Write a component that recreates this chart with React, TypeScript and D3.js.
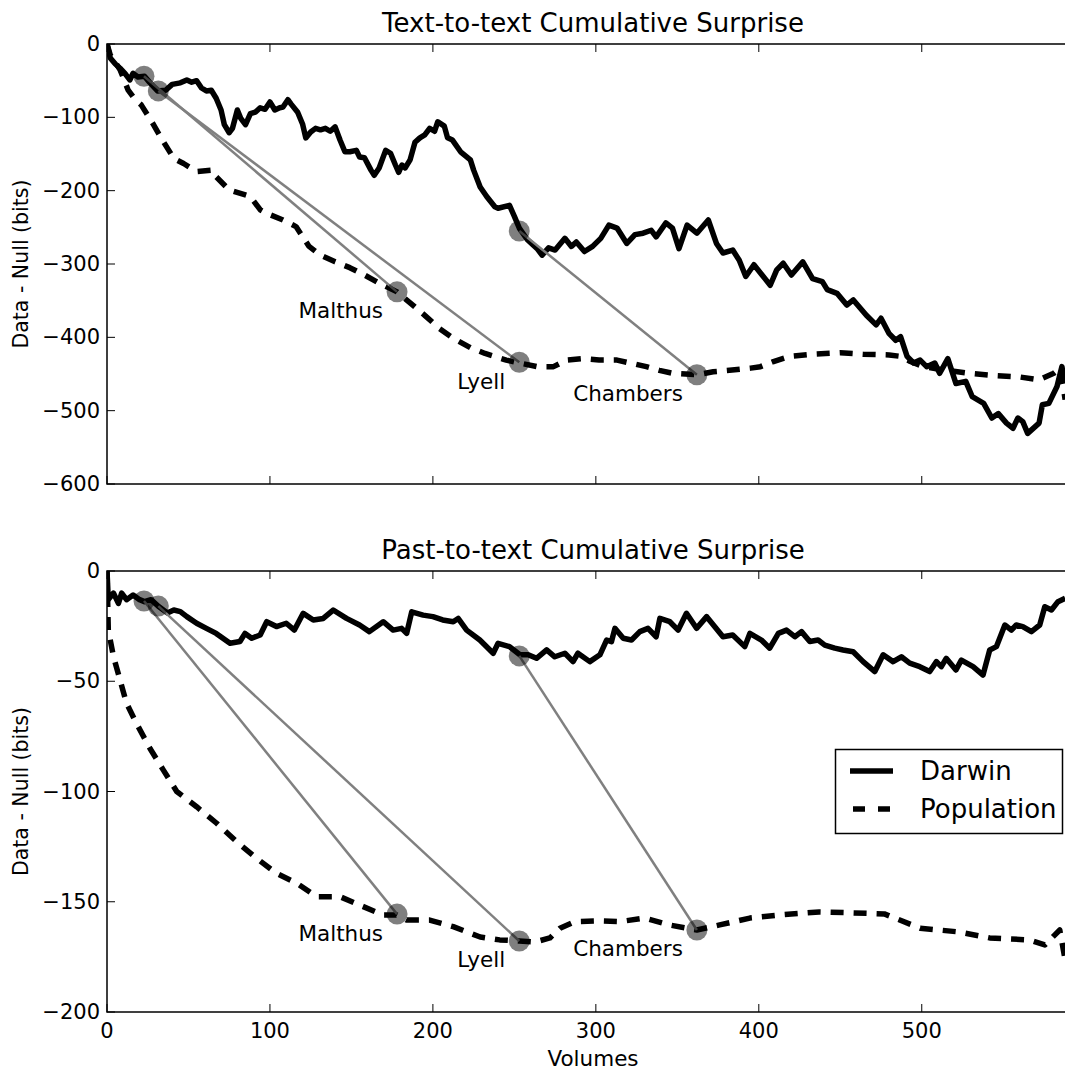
import React from "react";
import * as d3 from "d3";

type P = [number, number];

// ---------- data ----------
const xTicks = [0, 100, 200, 300, 400, 500];
const topYTicks = [0, -100, -200, -300, -400, -500, -600];
const bottomYTicks = [0, -50, -100, -150, -200];

const sourceNames = ["Malthus", "Lyell", "Chambers"];
const darwinReadVol = [22.7, 31.5, 253];
const popPubVol = [178, 253, 362];

const textDarwinMarks = [-44, -64, -255];
const textPopMarks = [-338, -434, -451];
const pastDarwinMarks = [-13.6, -15.9, -38.5];
const pastPopMarks = [-155.6, -167.8, -162.8];

const textDarwin: P[] = [
  [0, 0], [2, -19], [5, -27], [8, -33], [11, -40], [14, -49], [16, -40], [19, -45], [23, -44], [26, -52],
  [31, -64], [36, -63], [40, -55], [45, -53], [49, -49], [52, -52], [55, -50], [58, -60], [61, -64], [64, -63],
  [67, -74], [70, -90], [72, -110], [75, -121], [77, -115], [80, -90], [82, -101], [85, -110], [88, -95], [91, -93],
  [94, -87], [97, -89], [100, -79], [103, -90], [106, -87], [108, -86], [111, -76], [113, -82], [117, -93], [120, -109],
  [122, -128], [125, -120], [128, -115], [131, -117], [134, -115], [137, -119], [140, -113], [143, -131], [146, -147], [149, -147],
  [153, -145], [155, -154], [158, -155], [162, -172], [164, -179], [167, -169], [171, -145], [174, -149], [177, -165], [179, -175],
  [181, -165], [183, -169], [186, -158], [189, -134], [192, -128], [195, -124], [198, -115], [201, -119], [203, -106], [207, -112],
  [209, -128], [212, -131], [217, -147], [223, -158], [225, -172], [229, -195], [233, -208], [238, -222], [240, -224], [247, -220],
  [250, -235], [253, -251], [258, -267], [264, -279], [267, -288], [271, -278], [275, -281], [281, -265], [285, -276], [288, -270],
  [293, -283], [298, -276], [303, -265], [308, -247], [313, -251], [319, -272], [324, -260], [329, -258], [334, -254], [337, -263],
  [343, -244], [347, -251], [351, -279], [356, -247], [362, -258], [369, -240], [374, -272], [378, -285], [384, -281], [388, -295],
  [392, -317], [397, -301], [402, -315], [407, -329], [411, -308], [415, -299], [420, -315], [427, -297], [433, -320], [439, -324],
  [442, -335], [448, -340], [454, -356], [458, -349], [466, -370], [472, -383], [475, -374], [480, -395], [484, -404], [487, -399],
  [491, -426], [495, -435], [499, -431], [503, -440], [508, -435], [511, -449], [516, -429], [521, -463], [527, -460], [531, -481],
  [538, -490], [543, -510], [547, -504], [552, -517], [556, -524], [559, -510], [562, -515], [565, -531], [572, -517], [574, -492],
  [578, -490], [583, -467], [586, -440], [588, -462],
];

const textPop: P[] = [
  [0, 0], [2, -15], [5, -25], [8, -35], [13, -63], [17, -75], [21, -83], [28, -108], [34, -131], [41, -156],
  [47, -163], [55, -174], [65, -172], [67, -181], [75, -199], [88, -208], [94, -226], [98, -231], [108, -240], [116, -249],
  [124, -276], [131, -288], [140, -297], [149, -305], [158, -315], [167, -326], [178, -338], [186, -353], [195, -370], [204, -388],
  [213, -402], [223, -414], [232, -422], [245, -431], [253, -435], [264, -440], [274, -440], [282, -431], [292, -429], [302, -431],
  [313, -431], [321, -435], [331, -440], [339, -445], [347, -449], [362, -451], [372, -447], [382, -445], [395, -442], [401, -440],
  [409, -433], [419, -426], [433, -423], [450, -421], [464, -423], [480, -424], [487, -426], [493, -433], [501, -440], [515, -445],
  [529, -449], [544, -452], [560, -454], [572, -458], [581, -449], [585, -442], [588, -485],
];

const pastDarwin: P[] = [
  [0, 0], [0.8, -13], [4, -10], [7, -14.7], [9, -10], [12, -13], [16, -10.9], [20, -13], [23, -13.9], [27, -13],
  [31.5, -16], [37, -19], [41, -17.7], [45, -18.4], [49, -20.7], [55, -23.7], [61, -26], [67, -28.3], [75.5, -32.8], [81.6, -32],
  [84.7, -28.3], [88.8, -30.5], [94, -29], [98, -23], [104, -25.2], [110, -23.7], [115, -26.8], [120.4, -19.2], [126.6, -22.2], [132.7, -21.5],
  [138.8, -17.7], [147, -21.5], [155, -24.5], [161, -27.5], [169.5, -23], [175.6, -26.8], [180.8, -26], [183.9, -28.3], [187, -18.5], [194, -20],
  [200, -20.7], [206, -22.2], [212.5, -23], [215.5, -21.5], [220.7, -26.8], [228.8, -31.3], [237, -37.3], [240, -32.8], [247, -34.3], [253.4, -38],
  [258.5, -38], [263.6, -39.6], [269.8, -35.8], [274.8, -38.9], [281, -37.3], [286, -41.1], [289, -37.3], [296.3, -41.1], [302.5, -38], [306.6, -31.3],
  [309.6, -32], [311.7, -26], [316.8, -30.5], [321.9, -31.3], [327, -27.5], [332, -26], [337, -29.8], [339.3, -21.5], [345.4, -23], [350.5, -26.8],
  [355.6, -19.2], [361.8, -26], [368, -20.7], [378, -29.8], [384, -29], [391.4, -34.3], [394.5, -28.3], [401.6, -31.3], [406.7, -35], [412, -28.3],
  [417, -26.8], [422.1, -29.8], [426.2, -27.5], [431.3, -32], [436.4, -31.3], [440.5, -33.6], [446.6, -35], [451.7, -35.8], [457.9, -36.6], [464, -41.1],
  [471.2, -45.6], [476.3, -38], [482.4, -41.1], [487.5, -38.9], [492.6, -41.8], [498.8, -43.4], [504.9, -45.6], [509, -41.1], [512, -43.4], [515, -39.6],
  [521, -44.9], [524.3, -40.4], [531.5, -43.4], [537.6, -47.2], [541.7, -35.8], [545.8, -34.3], [551, -24.5], [555, -26.8], [558, -24.5], [562, -25.2],
  [567.3, -27.5], [572.4, -24.5], [575.5, -16.2], [579.6, -17.7], [583.6, -13.9], [588, -12.4],
];

const pastPop: P[] = [
  [0, 0], [0.8, -26.8], [4, -38.9], [8, -49.4], [12, -60], [18, -69], [26.4, -80.5], [34.5, -90.2], [42.8, -100], [55, -106.9],
  [67.3, -114.4], [79.6, -122.8], [91.8, -130.3], [104, -137.1], [116.4, -141.6], [128.7, -147.7], [143, -147.7], [157.3, -152.2], [169.5, -156], [177.7, -156],
  [183.9, -158.3], [198, -158.3], [212.5, -161.3], [229, -166], [241, -167.3], [253, -167.8], [262.6, -168.3], [271.8, -166.4], [278, -162], [287, -159],
  [302, -158.7], [314.7, -159], [330, -157.4], [345, -160.5], [362, -162.8], [376, -160.5], [394.5, -157.4], [413, -156], [437, -154.6], [456, -155],
  [477, -155.5], [486.5, -158.3], [499, -162], [523, -163.7], [541.7, -166.4], [566, -167.3], [575.5, -169.6], [584.7, -162.8], [588, -176.4],
];

// ---------- layout ----------
const W = 1065;
const H = 1070;
const L = 107;
const R = 1079;
const FONT = "'DejaVu Sans', 'Bitstream Vera Sans', sans-serif";

const panels = [
  {
    id: "top", top: 44, bottom: 484, ymin: -600, yTicks: topYTicks,
    title: "Text-to-text Cumulative Surprise",
    darwin: textDarwin, pop: textPop, dMarks: textDarwinMarks, pMarks: textPopMarks, showX: false,
  },
  {
    id: "bot", top: 571, bottom: 1012, ymin: -200, yTicks: bottomYTicks,
    title: "Past-to-text Cumulative Surprise",
    darwin: pastDarwin, pop: pastPop, dMarks: pastDarwinMarks, pMarks: pastPopMarks, showX: true,
  },
];

const fmt = (v: number) => (v < 0 ? "\u2212" + Math.abs(v) : String(v));

export default function App() {
  const x = d3.scaleLinear().domain([0, 596.5]).range([L, R]);
  return (
    <svg
      width={W}
      height={H}
      style={{ position: "absolute", left: 0, top: 0, background: "#fff" }}
      fontFamily={FONT}
    >
      <rect x={0} y={0} width={W} height={H} fill="#fff" />
      {panels.map((p) => {
        const y = d3.scaleLinear().domain([p.ymin, 0]).range([p.bottom, p.top]);
        const line = d3
          .line<P>()
          .x((d) => x(d[0]))
          .y((d) => y(d[1]));
        const mid = (p.top + p.bottom) / 2;
        return (
          <g key={p.id}>
            <defs>
              <clipPath id={"clip-" + p.id}>
                <rect x={L} y={p.top} width={R - L} height={p.bottom - p.top} />
              </clipPath>
            </defs>
            <g clipPath={`url(#clip-${p.id})`}>
              <path d={line(p.darwin) || ""} fill="none" stroke="#000" strokeWidth={5.5} strokeLinejoin="round" />
              <path
                d={line(p.pop) || ""}
                fill="none"
                stroke="#000"
                strokeWidth={5.5}
                strokeDasharray="13 10"
                strokeLinejoin="round"
              />
              {sourceNames.map((n, i) => (
                <line
                  key={"c" + n}
                  x1={x(darwinReadVol[i])}
                  y1={y(p.dMarks[i])}
                  x2={x(popPubVol[i])}
                  y2={y(p.pMarks[i])}
                  stroke="#808080"
                  strokeWidth={2.5}
                />
              ))}
              {sourceNames.map((n, i) => (
                <g key={"m" + n}>
                  <circle cx={x(darwinReadVol[i])} cy={y(p.dMarks[i])} r={10.5} fill="#000" fillOpacity={0.5} />
                  <circle cx={x(popPubVol[i])} cy={y(p.pMarks[i])} r={10.5} fill="#000" fillOpacity={0.5} />
                </g>
              ))}
            </g>
            {sourceNames.map((n, i) => (
              <text
                key={"t" + n}
                x={x(popPubVol[i]) - 14}
                y={y(p.pMarks[i]) + 19}
                textAnchor="end"
                dominantBaseline="central"
                fontSize={21.5}
                fill="#000"
              >
                {n}
              </text>
            ))}
            {/* axes frame */}
            <rect x={L} y={p.top} width={R - L} height={p.bottom - p.top} fill="none" stroke="#000" strokeWidth={1.5} />
            {/* y ticks */}
            {p.yTicks.map((t) => (
              <g key={"y" + t}>
                <line x1={L} x2={L + 8} y1={y(t)} y2={y(t)} stroke="#000" strokeWidth={1} />
                <line x1={R} x2={R - 8} y1={y(t)} y2={y(t)} stroke="#000" strokeWidth={1} />
                <text x={L - 7} y={y(t)} textAnchor="end" dominantBaseline="central" fontSize={21} fill="#000">
                  {fmt(t)}
                </text>
              </g>
            ))}
            {/* x ticks */}
            {xTicks.map((t) => (
              <g key={"x" + t}>
                <line x1={x(t)} x2={x(t)} y1={p.bottom} y2={p.bottom - 8} stroke="#000" strokeWidth={1} />
                <line x1={x(t)} x2={x(t)} y1={p.top} y2={p.top + 8} stroke="#000" strokeWidth={1} />
                {p.showX && (
                  <text x={x(t)} y={p.bottom + 26} textAnchor="middle" fontSize={21} fill="#000">
                    {fmt(t)}
                  </text>
                )}
              </g>
            ))}
            <text x={(L + R) / 2} y={p.top - 12} textAnchor="middle" fontSize={26} fill="#000">
              {p.title}
            </text>
            <text
              transform={`translate(28,${mid}) rotate(-90)`}
              textAnchor="middle"
              fontSize={20.5}
              fill="#000"
            >
              Data - Null (bits)
            </text>
          </g>
        );
      })}
      <text x={(L + R) / 2} y={1066} textAnchor="middle" fontSize={21.5} fill="#000">
        Volumes
      </text>
      {/* legend */}
      <g>
        <rect x={835.5} y={749.5} width={227} height={84} fill="#fff" stroke="#000" strokeWidth={1.5} />
        <line x1={850} x2={893} y1={771} y2={771} stroke="#000" strokeWidth={5.5} />
        <line x1={853} x2={890} y1={809} y2={809} stroke="#000" strokeWidth={5.5} strokeDasharray="12 13" />
        <text x={920} y={771} dominantBaseline="central" fontSize={26} fill="#000">
          Darwin
        </text>
        <text x={920} y={809} dominantBaseline="central" fontSize={26} fill="#000">
          Population
        </text>
      </g>
    </svg>
  );
}
